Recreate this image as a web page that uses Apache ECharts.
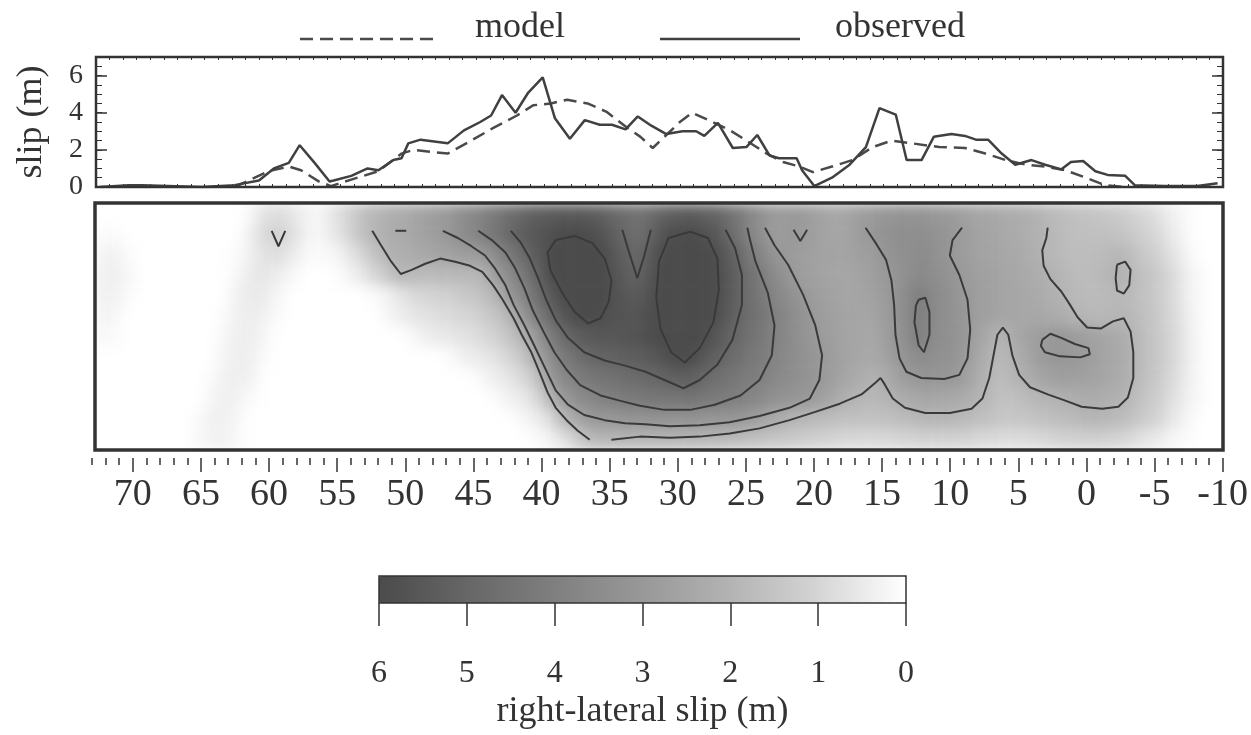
<!DOCTYPE html>
<html>
<head>
<meta charset="utf-8">
<script src="https://cdn.jsdelivr.net/npm/echarts@6/dist/echarts.min.js"></script>
<style>
  html, body { margin: 0; padding: 0; background: #fff; }
  #stage { position: relative; width: 1251px; height: 735px; overflow: hidden; }
  #field, #chart { position: absolute; left: 0; top: 0; width: 1251px; height: 735px; }
  /* the slip field is a smooth surface: soften the cells and keep them inside the frame */
  #field { filter: blur(7px); clip-path: inset(203px 28px 285px 95px); }
</style>
</head>
<body>
<div id="stage"><div id="field"></div><div id="chart"></div></div>
<script>
// ---------- axes ----------
const kmWest = 73;            // along-strike distance at the left edge (km)
const kmEast = -10;           // along-strike distance at the right edge (km)
const depthMax = 24;          // down-dip extent of the fault plane (rows of 2)
const distanceTicks = [70, 65, 60, 55, 50, 45, 40, 35, 30, 25, 20, 15, 10, 5, 0, -5, -10];
const slipTicks = [0, 2, 4, 6];

// ---------- surface slip profile ----------
const observedKm = [72.7, 70.6, 69.6, 65.2, 62.8, 61.0, 59.9, 58.8, 58.0, 56.9, 55.8, 55.5, 54.2, 53.0, 52.2, 51.1, 50.5, 50.0, 49.1, 47.1,
  45.9, 44.7, 43.9, 43.1, 42.1, 41.2, 40.1, 39.2, 38.1, 37.0, 35.9, 35.0, 34.0, 33.1, 32.1, 31.0, 29.8, 28.8, 28.2, 27.2,
  26.1, 25.1, 24.3, 23.4, 22.7, 21.4, 21.0, 20.1, 18.8, 17.5, 16.3, 15.3, 14.1, 13.3, 12.2, 11.3, 10.0, 9.0, 8.2, 7.3,
  6.3, 5.3, 4.1, 3.1, 1.9, 1.2, 0.3, -0.6, -1.5, -2.8, -3.5, -5.7, -8.1, -9.6];
const observedSlip = [0.0, 0.1, 0.1, 0.0, 0.1, 0.35, 1.0, 1.3, 2.25, 1.3, 0.3, 0.35, 0.6, 1.0, 0.9, 1.45, 1.55, 2.35, 2.55, 2.35,
  3.05, 3.5, 3.85, 4.95, 4.0, 5.05, 5.9, 3.7, 2.6, 3.6, 3.35, 3.35, 3.1, 3.8, 3.3, 2.85, 3.0, 3.0, 2.75, 3.45,
  2.1, 2.15, 2.8, 1.7, 1.55, 1.55, 0.9, 0.05, 0.5, 1.2, 2.15, 4.25, 3.9, 1.45, 1.45, 2.7, 2.85, 2.75, 2.55, 2.55,
  1.8, 1.2, 1.45, 1.2, 0.95, 1.35, 1.4, 0.85, 0.65, 0.6, 0.1, 0.05, 0.05, 0.2];
const modelKm = [62.8, 60.3, 58.8, 57.9, 56.6, 55.7, 54.2, 52.2, 50.5, 49.6, 47.1, 45.6, 43.7, 42.0, 40.8, 39.5, 38.3, 36.8, 35.4, 33.9,
  32.9, 32.0, 31.0, 30.0, 29.1, 27.6, 26.3, 25.1, 23.6, 22.4, 21.2, 20.2, 18.8, 17.3, 15.8, 14.4, 12.9, 10.9, 9.0, 7.5,
  6.0, 4.5, 3.1, 1.6, 0.1, -1.3, -2.8];
const modelSlip = [0.0, 0.85, 1.1, 0.9, 0.3, 0.05, 0.4, 0.85, 1.8, 2.0, 1.8, 2.4, 3.2, 3.85, 4.4, 4.5, 4.7, 4.5, 4.05, 3.2,
  2.7, 2.1, 2.8, 3.5, 4.0, 3.5, 3.05, 2.5, 1.8, 1.35, 1.1, 0.8, 1.1, 1.45, 2.15, 2.5, 2.35, 2.15, 2.1, 1.8,
  1.45, 1.2, 1.1, 0.9, 0.5, 0.1, 0.0];

// ---------- slip on the fault plane (m): 12 depth rows x 83 one-km cells, west -> east ----------
const slipRows = [
  [0,0,0,0,0,0,0,0,0,0,0, 0.2,0.7,0.8,0.6,0.3,0.2, 0.6,1.0,1.5,1.9,2.1,2.3,2.5,2.7,2.9,3.2,3.6,3.9,4.3,4.7,
   5.0,5.3,5.4,5.5,5.5,5.4,5.2,4.9,4.6,4.6,5.0,5.3,5.4,5.3,5.1, 4.7,4.2,3.6,3.1,2.9,3.0,2.8,2.6,2.5,2.6,2.8,3.0,3.1,3.2,3.2,
   3.1,3.0,2.8,2.6,2.5,2.4,2.3,2.2,2.0,1.8,1.7,1.6,1.5,1.4,1.3, 1.1,0.9,0.6,0.3,0.1,0,0],
  [0.1,0.1,0,0,0,0,0,0,0,0,0, 0.4,0.9,1.1,0.8,0.3,0.2, 0.5,0.9,1.5,1.95,2.2,2.35,2.5,2.7,2.9,3.2,3.6,3.95,4.4,4.9,
   5.3,5.6,5.8,5.95,6.0,5.9,5.6,5.1,4.7,4.8,5.5,5.9,6.0,5.9,5.6, 5.0,4.3,3.6,3.0,2.8,3.0,2.8,2.6,2.5,2.6,2.9,3.1,3.3,3.4,3.4,
   3.3,3.15,2.9,2.7,2.55,2.45,2.35,2.2,2.05,1.85,1.7,1.65,1.6,1.6,1.5, 1.3,1.1,0.8,0.4,0.1,0,0],
  [0.3,0.3,0.1,0,0,0,0,0,0,0,0.1, 0.4,0.7,0.8,0.5,0.2,0.1, 0.2,0.5,0.9,1.5,2.0,2.15,2.3,2.45,2.6,2.75,2.85,2.95,3.5,4.2,
   4.8,5.4,6.0,6.3,6.4,6.3,5.95,5.4,4.95,5.1,5.9,6.3,6.4,6.3,6.05, 5.4,4.8,4.0,3.4,3.0,2.8,2.7,2.6,2.55,2.6,2.75,2.9,3.15,3.35,3.5,
   3.4,3.15,2.9,2.7,2.6,2.5,2.4,2.25,2.05,1.85,1.75,1.7,1.7,1.8,1.9, 1.6,1.3,1.0,0.6,0.2,0,0],
  [0.35,0.35,0.2,0,0,0,0,0,0,0,0.2, 0.5,0.6,0.4,0.2,0,0, 0,0.2,0.5,0.9,1.4,1.9,1.8,1.75,1.8,1.8,1.85,1.95,2.8,3.5,
   4.2,5.0,6.0,6.5,6.6,6.5,6.15,5.6,5.1,5.3,6.1,6.6,6.7,6.6,6.25, 5.6,5.0,4.4,3.85,3.3,2.9,2.7,2.6,2.5,2.5,2.6,2.8,3.0,3.3,3.6,
   3.5,3.3,3.0,2.8,2.65,2.55,2.45,2.35,2.2,2.05,1.85,1.75,1.75,1.9,2.1, 1.8,1.5,1.2,0.8,0.3,0.1,0],
  [0.35,0.3,0.1,0,0,0,0,0,0,0,0.35, 0.5,0.45,0.2,0,0,0, 0,0,0,0.1,0.3,0.6,0.9,1.0,1.1,1.2,1.4,1.6,1.9,3.0,
   3.7,4.6,5.4,6.0,6.5,6.5,6.15,5.7,5.4,5.6,6.1,6.6,6.7,6.6,6.2, 5.6,5.0,4.5,4.0,3.6,3.2,2.9,2.7,2.6,2.5,2.55,2.7,2.95,3.4,4.0,
   3.7,3.4,3.1,2.9,2.7,2.6,2.5,2.4,2.3,2.1,1.95,1.8,1.75,1.8,1.85, 1.7,1.5,1.2,0.8,0.3,0.1,0],
  [0.3,0.2,0,0,0,0,0,0,0,0.1,0.35, 0.45,0.3,0.1,0,0,0, 0,0,0,0,0.2,0.4,0.6,0.7,0.8,0.9,1.0,1.2,1.5,1.9,
   3.0,4.0,4.9,5.6,6.0,6.1,5.9,5.7,5.6,5.8,6.1,6.5,6.6,6.4,6.0, 5.5,4.95,4.6,4.15,3.8,3.4,3.05,2.8,2.65,2.55,2.5,2.6,2.95,3.4,4.1,
   3.7,3.4,3.15,2.9,2.7,2.55,2.5,2.45,2.4,2.3,2.1,1.95,1.85,1.85,1.95, 1.8,1.55,1.25,0.85,0.35,0.1,0],
  [0.2,0.1,0,0,0,0,0,0,0,0.2,0.4, 0.4,0.2,0,0,0,0, 0,0,0,0,0,0,0.2,0.4,0.5,0.6,0.7,0.9,1.1,1.5,
   2.0,3.0,4.1,4.8,5.3,5.5,5.6,5.6,5.65,5.8,6.0,6.3,6.35,6.1,5.7, 5.2,4.8,4.45,4.1,3.75,3.4,3.1,2.9,2.7,2.55,2.45,2.5,2.9,3.3,4.05,
   3.6,3.35,3.15,2.85,2.4,1.95,2.3,2.6,2.8,3.0,2.95,2.8,2.6,2.45,2.3, 1.95,1.6,1.3,0.9,0.4,0.1,0],
  [0,0,0,0,0,0,0,0,0,0.25,0.4, 0.35,0.1,0,0,0,0, 0,0,0,0,0,0,0,0,0,0.2,0.4,0.5,0.7,1.0,
   1.4,2.4,3.4,4.2,4.6,4.95,5.1,5.2,5.3,5.4,5.6,5.95,6.05,5.7,5.3, 4.9,4.55,4.25,4.0,3.7,3.4,3.15,2.95,2.75,2.55,2.4,2.4,2.75,3.15,3.5,
   3.4,3.3,3.1,2.7,2.2,1.8,2.05,2.4,2.8,3.05,3.05,2.95,2.7,2.5,2.35, 1.95,1.6,1.3,0.9,0.4,0.1,0],
  [0,0,0,0,0,0,0,0,0.1,0.3,0.4, 0.3,0,0,0,0,0, 0,0,0,0,0,0,0,0,0,0,0,0.2,0.4,0.6,
   0.9,1.5,3.0,3.6,4.1,4.3,4.5,4.6,4.75,4.9,5.0,5.2,5.3,5.05,4.7, 4.45,4.25,4.05,3.8,3.55,3.35,3.15,2.95,2.7,2.45,2.2,2.05,2.4,2.8,3.05,
   3.1,3.05,2.95,2.5,2.05,1.7,1.9,2.2,2.5,2.7,2.75,2.7,2.6,2.45,2.3, 1.9,1.55,1.2,0.8,0.35,0.1,0],
  [0,0,0,0,0,0,0,0,0.2,0.35,0.3, 0.1,0,0,0,0,0, 0,0,0,0,0,0,0,0,0,0,0,0,0.1,0.3,
   0.5,0.9,1.9,3.0,3.4,3.7,3.95,4.1,4.2,4.3,4.35,4.4,4.45,4.35,4.2, 4.1,3.95,3.7,3.45,3.25,3.1,2.95,2.7,2.4,2.05,1.9,1.85,2.0,2.3,2.45,
   2.5,2.45,2.35,2.15,1.9,1.6,1.6,1.75,1.9,2.0,2.15,2.25,2.25,2.2,2.05, 1.75,1.4,1.1,0.7,0.3,0.1,0],
  [0,0,0,0,0,0,0,0.1,0.3,0.35,0.2, 0,0,0,0,0,0, 0,0,0,0,0,0,0,0,0,0,0,0,0,0,
   0.2,0.4,0.8,1.9,2.5,2.95,3.0,3.1,3.15,3.2,3.2,3.2,3.2,3.15,3.1, 3.05,3.0,2.8,2.5,2.2,1.95,1.85,1.75,1.65,1.6,1.55,1.55,1.6,1.75,1.85,
   1.9,1.9,1.85,1.75,1.6,1.45,1.4,1.45,1.55,1.65,1.75,1.85,1.9,1.85,1.75, 1.5,1.2,0.9,0.5,0.2,0,0],
  [0,0,0,0,0,0,0,0.15,0.3,0.3,0.15, 0,0,0,0,0,0, 0,0,0,0,0,0,0,0,0,0,0,0,0,0,
   0,0.1,0.3,0.7,1.3,1.8,1.9,1.95,1.95,1.9,1.9,1.9,1.9,1.9,1.85, 1.8,1.7,1.6,1.5,1.4,1.3,1.2,1.1,1.0,0.95,0.9,0.9,0.95,1.0,1.05,
   1.1,1.1,1.05,1.0,0.9,0.85,0.8,0.85,0.9,1.0,1.1,1.15,1.15,1.1,1.0, 0.8,0.6,0.4,0.2,0.1,0,0]
];

// ---------- slip contours on the fault plane: [km, depth] ----------
const contour1Nick = [[60.0,2.7],[59.5,4.2],[59.0,2.7]];
const contour2Nick = [[50.9,2.7],[50.1,2.7]];
const contour2West = [[52.6,2.7],[52.0,4.0],[51.2,5.7],[50.5,6.9],[49.7,6.5],[48.7,5.9],[47.6,5.4],[46.5,5.7],[45.4,6.1],[44.5,6.7],
  [43.7,8.0],[43.0,9.4],[42.2,11.2],[41.6,12.8],[40.9,14.5],[40.3,16.4],[39.7,18.4],[39.1,19.9],[38.3,21.1],[37.5,22.1],[36.6,23.0]];
const contour2East = [[35.0,23.0],[32.9,22.7],[30.7,22.8],[28.5,22.7],[26.3,22.4],[24.1,21.9],[21.9,21.1],[20.0,20.3],[18.2,19.5],[16.6,18.6],
  [15.6,17.5],[15.2,17.0],[14.9,17.6],[14.3,19.0],[13.4,19.9],[11.9,20.4],[10.1,20.4],[8.5,20.0],[7.7,19.0],[7.2,17.0],
  [6.9,14.9],[6.6,12.8],[6.2,12.1],[5.8,12.8],[5.5,14.8],[5.0,16.7],[4.2,17.9],[2.9,18.6],[1.6,19.2],[0.4,19.8],
  [-1.1,20.0],[-2.3,19.8],[-3.0,18.9],[-3.4,17.0],[-3.4,14.5],[-3.2,12.5],[-2.7,11.2],[-1.9,11.5],[-1.0,12.2],[0.0,12.1],
  [0.7,11.1],[1.3,9.8],[1.9,8.6],[2.7,7.4],[3.2,6.1],[3.3,4.6],[3.0,3.4],[2.9,2.4]];
const contour2Spot = [[-2.2,6.0],[-2.8,5.7],[-3.2,6.5],[-3.1,8.0],[-2.7,8.8],[-2.2,8.5],[-2.1,7.3],[-2.2,6.0]];
const contour3Main = [[47.4,2.7],[46.3,3.4],[45.3,4.2],[44.3,5.1],[43.6,6.3],[42.8,8.0],[42.2,9.9],[41.4,11.9],[40.7,13.8],[39.9,16.0],
  [39.1,18.2],[38.2,19.6],[37.0,20.6],[35.5,21.1],[34.0,21.4],[32.5,21.5],[30.7,21.7],[28.5,21.6],[26.3,21.3],[24.1,20.7],
  [21.9,19.9],[20.4,19.0],[19.7,17.2],[19.5,14.8],[20.0,11.9],[20.9,8.9],[22.0,6.0],[23.0,4.1],[23.7,2.4]];
const contour3Nick = [[21.6,2.6],[21.1,3.7],[20.6,2.6]];
const contour3U = [[16.3,2.4],[15.5,4.0],[14.8,5.5],[14.4,7.5],[14.2,9.9],[14.1,12.8],[13.8,15.1],[13.3,16.4],[12.2,17.0],[10.5,17.1],
  [9.4,16.7],[8.8,15.1],[8.6,12.3],[8.8,9.4],[9.4,7.0],[10.1,5.1],[9.9,3.6],[9.2,2.4]];
const contour3Spot = [[3.3,13.3],[2.7,12.7],[1.9,13.1],[0.9,13.7],[-0.1,14.1],[-0.2,14.7],[0.5,15.0],[2.0,14.9],[3.1,14.5],[3.4,13.9],[3.3,13.3]];
const contour4Main = [[44.8,2.7],[43.8,3.6],[42.8,4.8],[42.1,6.3],[41.4,8.3],[40.8,10.4],[40.0,12.5],[39.2,14.5],[38.3,16.2],[37.3,17.7],
  [35.8,18.7],[34.4,19.2],[32.9,19.7],[31.1,20.1],[29.2,20.1],[27.4,19.6],[25.5,18.7],[24.1,17.2],[23.2,14.8],[23.0,11.9],
  [23.5,8.7],[24.4,5.7],[24.8,3.6],[25.0,2.4]];
const contour4Spot = [[12.4,9.4],[11.9,9.2],[11.6,10.6],[11.6,12.8],[12.0,14.5],[12.4,13.8],[12.7,11.6],[12.6,10.0],[12.4,9.4]];
const contour5Main = [[42.4,2.7],[41.7,3.8],[41.0,5.4],[40.4,7.3],[39.8,9.4],[39.1,11.4],[38.2,13.1],[37.0,14.5],[35.5,15.3],[34.0,15.8],
  [32.5,16.4],[31.1,17.2],[29.7,18.0],[28.5,17.2],[27.2,15.7],[26.1,13.3],[25.4,9.9],[25.4,7.0],[25.9,4.4],[26.6,2.6]];
const contour5Notch = [[34.2,2.6],[33.7,4.8],[33.1,7.3],[32.6,5.2],[32.1,2.6]];
const contour6West = [[39.1,3.6],[37.7,3.2],[36.4,3.9],[35.5,5.4],[35.0,7.5],[35.2,9.6],[35.8,11.2],[36.7,11.7],[37.7,10.6],[38.6,8.8],
  [39.5,6.5],[39.7,4.8],[39.1,3.6]];
const contour6East = [[30.8,3.4],[29.2,2.8],[27.9,3.4],[27.2,5.4],[27.1,8.5],[27.5,11.6],[28.5,14.1],[29.6,15.5],[30.6,14.5],[31.4,12.2],
  [31.7,9.2],[31.5,5.7],[30.8,3.4]];

const contours = [contour1Nick, contour2Nick, contour2West, contour2East, contour2Spot, contour3Main, contour3Nick, contour3U,
  contour3Spot, contour4Main, contour4Spot, contour5Main, contour5Notch, contour6West, contour6East];

// grey ramp of the slip scale, 0 m -> 6 m
const slipGreys = ['#ffffff', '#d5d5d5', '#b3b3b3', '#989898', '#7f7f7f', '#666666', '#4b4b4b'];

const SERIF = "'Liberation Serif', 'Times New Roman', serif";
const INK = '#333333';
const zip = (a, b) => a.map((v, i) => [v, b[i]]);

// legend keys: a line sitting low in a 140 x 24.5 box, so the label rides above it
const solidKey = 'path://M0,0M0,22L140,22L140,24.5L0,24.5Z';
const dashedKey = 'path://M0,0' + [0, 20, 40, 60, 80, 100, 120]
  .map(x => 'M' + x + ',22L' + (x + 13) + ',22L' + (x + 13) + ',24.5L' + x + ',24.5Z').join('') + 'M140,22';

// ---------- shaded slip field (drawn underneath, softened by CSS) ----------
const fieldCells = [];
slipRows.forEach((row, r) => row.forEach((v, c) => fieldCells.push([c, r, v])));
const field = echarts.init(document.getElementById('field'), null, { renderer: 'canvas' });
field.setOption({
  animation: false,
  grid: { left: 95, right: 28, top: 203, height: 247 },
  xAxis: { type: 'category', data: slipRows[0].map((_, c) => c), show: false },
  yAxis: { type: 'category', data: slipRows.map((_, r) => r), inverse: true, show: false },
  visualMap: { show: false, type: 'continuous', min: 0, max: 6, seriesIndex: 0, inRange: { color: slipGreys } },
  series: [{ type: 'heatmap', data: fieldCells, silent: true, itemStyle: { borderWidth: 0 }, emphasis: { disabled: true } }]
});

// ---------- profile, contours, axes, legend and scale ----------
const chart = echarts.init(document.getElementById('chart'), null, { renderer: 'canvas' });
const kmAxis = { type: 'value', min: kmEast, max: kmWest, inverse: true, splitLine: { show: false } };
const noLine = { show: false, onZero: false };

const contourSeries = contours.map((c, k) => ({
  name: 'contour ' + k, type: 'line', xAxisIndex: 2, yAxisIndex: 4, data: c,
  symbol: 'none', silent: true, lineStyle: { color: '#3a3a3a', width: 2 }, z: 5
}));

chart.setOption({
  animation: false,
  textStyle: { fontFamily: SERIF, color: INK },
  legend: {
    data: [{ name: 'model', icon: dashedKey }, { name: 'observed', icon: solidKey }],
    left: 300, top: 10, padding: 0,
    itemWidth: 140, itemHeight: 24.5, itemGap: 95, selectedMode: false,
    textStyle: { fontFamily: SERIF, fontSize: 36, color: INK, padding: [0, 0, 0, 30] }
  },
  grid: [
    { left: 96, right: 28, top: 57, height: 130, show: true, borderColor: INK, borderWidth: 2.5, backgroundColor: 'transparent', z: 6 },
    { left: 95, right: 28, top: 203, height: 247, show: true, borderColor: INK, borderWidth: 3.5, backgroundColor: 'transparent', z: 6 },
    { left: 92, right: 23, top: 450, height: 8 },
    { left: 379, width: 527, top: 576, height: 27, show: true, borderColor: INK, borderWidth: 1.5, backgroundColor: 'transparent', z: 10 }
  ],
  xAxis: [
    Object.assign({}, kmAxis, { gridIndex: 0, position: 'bottom', interval: 1, axisLine: noLine,
      axisTick: { inside: true, length: 3, lineStyle: { color: INK } }, axisLabel: { show: false } }),
    Object.assign({}, kmAxis, { gridIndex: 0, position: 'top', interval: 1, axisLine: noLine,
      axisTick: { inside: true, length: 3, lineStyle: { color: INK } }, axisLabel: { show: false } }),
    Object.assign({}, kmAxis, { gridIndex: 1, show: false, axisLine: noLine }),
    Object.assign({}, kmAxis, { gridIndex: 2, position: 'bottom', interval: 1, axisLine: noLine,
      axisTick: { length: 7, lineStyle: { color: INK, width: 1.5 } }, axisLabel: { show: false } }),
    Object.assign({}, kmAxis, { gridIndex: 2, position: 'bottom', axisLine: noLine,
      axisTick: { length: 14, customValues: distanceTicks, lineStyle: { color: INK, width: 1.5 } },
      axisLabel: { customValues: distanceTicks, margin: 18, fontSize: 38, fontFamily: SERIF, color: INK } }),
    { gridIndex: 3, type: 'value', min: 0, max: 6, interval: 1, inverse: true, position: 'bottom',
      axisLine: noLine, splitLine: { show: false },
      axisTick: { length: 23, lineStyle: { color: INK, width: 1.5 } },
      axisLabel: { margin: 55, fontSize: 32, fontFamily: SERIF, color: INK },
      name: 'right-lateral slip (m)', nameLocation: 'middle', nameGap: 91,
      nameTextStyle: { fontSize: 36, fontFamily: SERIF, color: INK } }
  ],
  yAxis: [
    { gridIndex: 0, type: 'value', min: 0, max: 7, interval: 0.5, position: 'left', axisLine: noLine, splitLine: { show: false },
      axisTick: { inside: true, length: 6, lineStyle: { color: INK } },
      axisLabel: { customValues: slipTicks, margin: 13, fontSize: 28, fontFamily: SERIF, color: INK },
      name: 'slip (m)', nameLocation: 'middle', nameGap: 46, nameTextStyle: { fontSize: 36, fontFamily: SERIF, color: INK } },
    { gridIndex: 0, type: 'value', min: 0, max: 7, position: 'left', axisLine: noLine, splitLine: { show: false },
      axisTick: { inside: true, length: 11, customValues: slipTicks, lineStyle: { color: INK, width: 1.5 } }, axisLabel: { show: false } },
    { gridIndex: 0, type: 'value', min: 0, max: 7, interval: 0.5, position: 'right', axisLine: noLine, splitLine: { show: false },
      axisTick: { inside: true, length: 6, lineStyle: { color: INK } }, axisLabel: { show: false } },
    { gridIndex: 0, type: 'value', min: 0, max: 7, position: 'right', axisLine: noLine, splitLine: { show: false },
      axisTick: { inside: true, length: 11, customValues: slipTicks, lineStyle: { color: INK, width: 1.5 } }, axisLabel: { show: false } },
    { gridIndex: 1, type: 'value', min: 0, max: depthMax, inverse: true, show: false, axisLine: noLine },
    { gridIndex: 2, type: 'value', show: false, axisLine: noLine },
    { gridIndex: 3, type: 'value', show: false, axisLine: noLine }
  ],
  visualMap: {
    type: 'continuous', min: 0, max: 6, orient: 'horizontal', inverse: true,
    left: 379, top: 576, itemWidth: 27, itemHeight: 527, padding: 0,
    text: null, showLabel: false, calculable: false, hoverLink: false, seriesIndex: [],
    inRange: { color: slipGreys }
  },
  series: [
    { name: 'model', type: 'line', xAxisIndex: 0, yAxisIndex: 0, data: zip(modelKm, modelSlip), symbol: 'none', silent: true,
      lineStyle: { color: '#4a4a4a', width: 2.5, type: [13, 7] }, itemStyle: { color: '#4a4a4a' } },
    { name: 'observed', type: 'line', xAxisIndex: 0, yAxisIndex: 0, data: zip(observedKm, observedSlip), symbol: 'none', silent: true,
      lineStyle: { color: '#404040', width: 2.5 }, itemStyle: { color: '#404040' } }
  ].concat(contourSeries)
});
</script>
</body>
</html>
